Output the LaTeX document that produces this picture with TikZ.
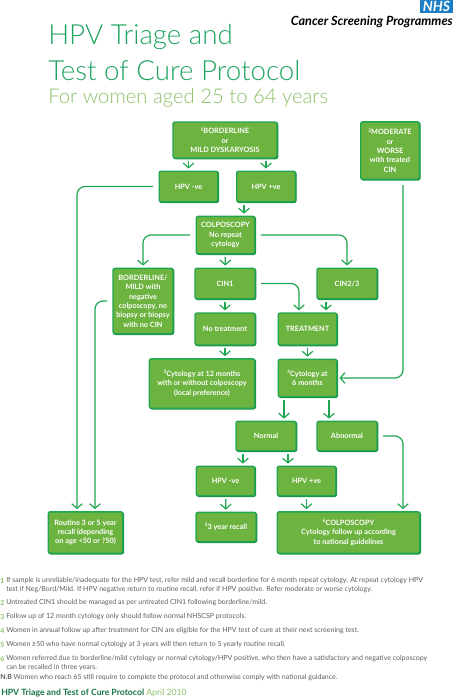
\documentclass[tikz,border=0pt]{standalone}
\usepackage{fontspec}
\setmainfont{Lato}
\newfontfamily\titlefont{Lato Light}
\usetikzlibrary{positioning, arrows.meta, shadows}
\definecolor{boxfill}{HTML}{6DB33F}
\definecolor{boxline}{HTML}{1FA650}
\definecolor{titlegreen}{HTML}{1FA45F}
\definecolor{subgreen}{HTML}{8DBF67}
\definecolor{nhsblue}{HTML}{1C7FC4}
\definecolor{notegrey}{HTML}{5A5F5C}
\newcommand{\fn}[1]{\raisebox{2pt}{\fontsize{3.6}{4}\selectfont #1}}

\begin{document}
\begin{tikzpicture}[x=0.75pt, y=-0.75pt,
    block/.style={rectangle, draw=boxline, fill=boxfill, rounded corners=1.5pt, line width=1pt, align=center, inner sep=0pt, text=white, font=\fontsize{5.5}{7}\selectfont\bfseries, copy shadow={shadow xshift=0.5pt, shadow yshift=-0.5pt, draw=boxline!85!black, fill=boxline!85!black}},
    arr/.style={-{Straight Barb[length=3.5pt, width=8pt]}, boxline, line width=0.9pt, shorten >=1.5pt, shorten <=2pt},
    elbow/.style={arr, rounded corners=6pt, shorten <=4pt},
    note/.style={anchor=west, inner sep=0pt, text=notegrey, font=\fontsize{5.25}{6}\selectfont},
    notenum/.style={anchor=west, inner sep=0pt, text=subgreen, font=\fontsize{5.25}{6}\selectfont\bfseries},
  ]
    \useasboundingbox (0,0) rectangle (474,699);

    % header
    \node[anchor=west, inner sep=0pt, text=titlegreen, font=\fontsize{20.8}{24}\selectfont\titlefont] (title) at (48,37) {HPV Triage and};
    \node[anchor=west, inner sep=0pt, text=titlegreen, font=\fontsize{20.8}{24}\selectfont\titlefont] (titleb) at (48,71) {Test of Cure Protocol};
    \node[anchor=west, inner sep=0pt, text=subgreen, font=\fontsize{15.2}{16}\selectfont\titlefont] (titlec) at (48,98) {For women aged 25 to 64 years};
    \node[fill=nhsblue, text=white, inner sep=0pt, minimum width=25pt, minimum height=10pt, font=\fontsize{10.5}{10}\selectfont\bfseries\itshape] (nhs) at (436.5,6.5) {NHS};
    \node[anchor=east, inner sep=0pt, font=\fontsize{9.5}{10}\selectfont\bfseries\itshape] (csp) at (453,21.5) {Cancer Screening Programmes};

    % boxes
    \node[block, minimum width=78pt, minimum height=27pt] (triage) at (225,140) {\fn{1}BORDERLINE\\or\\MILD DYSKARYOSIS};
    \node[block, minimum width=44pt, minimum height=23pt] (hpvneg) at (188.5,186.5) {HPV -ve};
    \node[block, minimum width=44pt, minimum height=23pt] (hpvpos) at (266,186.5) {HPV +ve};
    \node[block, minimum width=44pt, minimum height=43pt] (moderate) at (390,150.5) {\fn{2}MODERATE\\or\\WORSE\\with treated\\CIN};
    \node[block, minimum width=44pt, minimum height=28pt] (colpo) at (225.5,235) {COLPOSCOPY\\No repeat\\cytology};
    \node[block, minimum width=45pt, minimum height=49pt] (negcolpo) at (143,301) {BORDERLINE/\\MILD with\\negative\\colposcopy, no\\biopsy or biopsy\\with no CIN};
    \node[block, minimum width=45pt, minimum height=23pt] (cinone) at (225,283.5) {CIN1};
    \node[block, minimum width=45pt, minimum height=23pt] (cintwo) at (347,283.5) {CIN2/3};
    \node[block, minimum width=45pt, minimum height=24pt] (notreat) at (225,329) {No treatment};
    \node[block, minimum width=44pt, minimum height=24pt] (treat) at (307.5,329) {TREATMENT};
    \node[block, minimum width=79pt, minimum height=37pt] (cyttwelve) at (202,383.5) {\fn{3}Cytology at 12 months\\with or without colposcopy\\(local preference)};
    \node[block, minimum width=44pt, minimum height=28pt] (cytsix) at (307.5,378) {\fn{4}Cytology at\\6 months};
    \node[block, minimum width=45pt, minimum height=22pt] (normal) at (266,436) {Normal};
    \node[block, minimum width=45pt, minimum height=22pt] (abnormal) at (347,436) {Abnormal};
    \node[block, minimum width=44pt, minimum height=22pt] (retestneg) at (225.5,481) {HPV -ve};
    \node[block, minimum width=44pt, minimum height=22pt] (retestpos) at (306.5,481) {HPV +ve};
    \node[block, minimum width=56pt, minimum height=31pt] (routine) at (85.5,532.5) {Routine 3 or 5 year\\recall (depending\\on age <50 or ?50)};
    \node[block, minimum width=45pt, minimum height=22pt] (recall) at (226,527) {\fn{5}3 year recall};
    \node[block, minimum width=107pt, minimum height=31pt] (colpotwo) at (348.5,532.5) {\fn{6}COLPOSCOPY\\Cytology follow up according\\to national guidelines};

    % lanes for the connectors
    \coordinate (lanea) at (77,0);
    \coordinate (laneb) at (95,0);
    \coordinate (lanec) at (244,0);
    \coordinate (laned) at (243,0);
    \coordinate (lanee) at (288,0);
    \coordinate (lanef) at (284,0);
    \coordinate (laneg) at (329,0);
    \coordinate (laneh) at (403,0);
    \coordinate (lanei) at (299,0);
    \coordinate (lanej) at (326,0);

    % connectors
    \draw[arr] (triage.south -| hpvneg) -- (hpvneg);
    \draw[arr] (triage.south -| hpvpos) -- (hpvpos);
    \draw[arr] (hpvpos.south -| lanec) -- (colpo.north -| lanec);
    \draw[elbow] (colpo.west) -| (negcolpo.north);
    \draw[elbow] (colpo.east) -| (cintwo.north);
    \draw[arr] (colpo) -- (cinone);
    \draw[arr] (cinone) -- (notreat);
    \draw[elbow] (cinone.east) -| (treat.north -| lanei);
    \draw[arr] (cintwo.south -| lanej) -- (treat.north -| lanej);
    \draw[arr] (notreat.south) -- (notreat.south |- cyttwelve.north);
    \draw[arr] (treat) -- (cytsix);
    \draw[elbow] (moderate.south -| laneh) |- (cytsix.east);
    \draw[arr] (cytsix.south -| lanef) -- (normal.north -| lanef);
    \draw[arr] (cytsix.south -| laneg) -- (abnormal.north -| laneg);
    \draw[arr] (normal.south -| laned) -- (retestneg.north -| laned);
    \draw[arr] (normal.south -| lanee) -- (retestpos.north -| lanee);
    \draw[arr] (retestneg) -- (recall);
    \draw[arr] (retestpos) -- (colpotwo.north -| retestpos);
    \draw[elbow] (abnormal.east) -| (colpotwo.north -| laneh);
    \draw[elbow] (hpvneg.west) -| (routine.north -| lanea);
    \draw[elbow] (negcolpo.west) -| (routine.north -| laneb);

    % footnotes
    \node[notenum] (m1) at (0,581) {1};
    \node[note] (n1) at (6,581) {If sample is unreliable/inadequate for the HPV test, refer mild and recall borderline for 6 month repeat cytology. At repeat cytology HPV};
    \node[note] (n1b) at (6,590) {test if Neg/Bord/Mild. If HPV negative return to routine recall, refer if HPV positive. Refer moderate or worse cytology.};
    \node[notenum] (m2) at (0,603) {2};
    \node[note] (n2) at (6,603) {Untreated CIN1 should be managed as per untreated CIN1 following borderline/mild.};
    \node[notenum] (m3) at (0,617) {3};
    \node[note] (n3) at (6,617) {Follow up of 12 month cytology only should follow normal NHSCSP protocols.};
    \node[notenum] (m4) at (0,631) {4};
    \node[note] (n4) at (6,631) {Women in annual follow up after treatment for CIN are eligible for the HPV test of cure at their next screening test.};
    \node[notenum] (m5) at (0,645) {5};
    \node[note] (n5) at (6,645) {Women \textbf{≥}50 who have normal cytology at 3 years will then return to 5 yearly routine recall.};
    \node[notenum] (m6) at (0,659) {6};
    \node[note] (n6) at (6,659) {Women referred due to borderline/mild cytology or normal cytology/HPV positive, who then have a satisfactory and negative colposcopy};
    \node[note] (n6b) at (6,668) {can be recalled in three years.};
    \node[note] (nb) at (0,678) {\textbf{N.B} Women who reach 65 still require to complete the protocol and otherwise comply with national guidance.};
    \node[anchor=west, inner sep=0pt, font=\fontsize{6.5}{8}\selectfont] (footer) at (1,693) {\textcolor{titlegreen!70!black}{\bfseries HPV Triage and Test of Cure Protocol} \textcolor{subgreen}{April 2010}};
  \end{tikzpicture}
\end{document}
